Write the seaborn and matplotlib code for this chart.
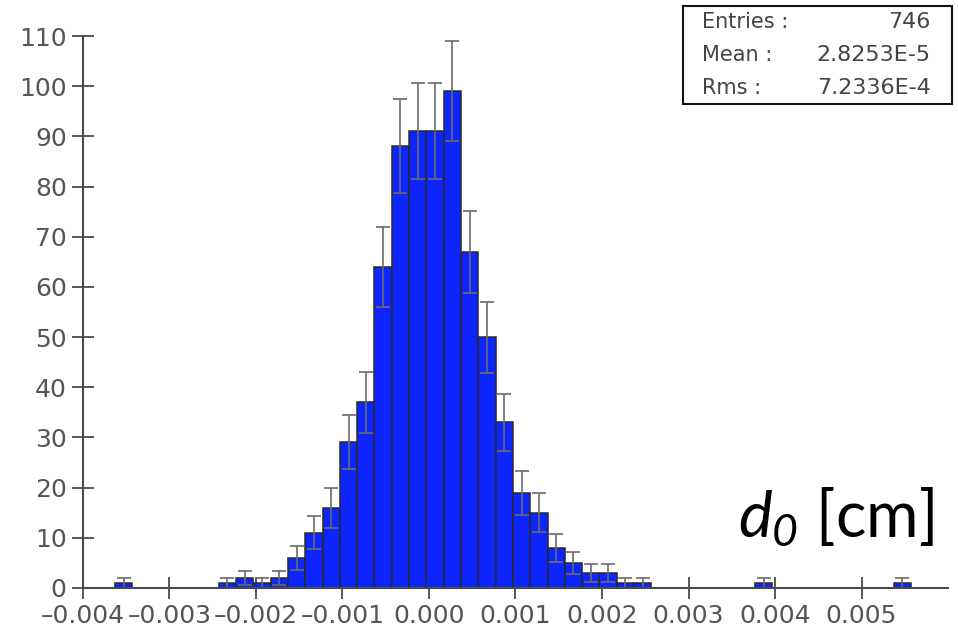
import numpy as np
import pandas as pd
import matplotlib
matplotlib.use("Agg")
import matplotlib.pyplot as plt
import matplotlib.patches as mpatches
import seaborn as sns

# Histogram of the track impact parameter d0 (46 bins, 0.0002 cm wide)
bin_start = -0.00363
bin_width = 0.0002
counts = [1, 0, 0, 0, 0, 0, 1, 2, 1, 2,
          6, 11, 16, 29, 37, 64, 88, 91, 91, 99,
          67, 50, 33, 19, 15, 8, 5, 3, 3, 1,
          1, 0, 0, 0, 0, 0, 0, 1, 0, 0,
          0, 0, 0, 0, 0, 1]
x_ticks = [-0.004, -0.003, -0.002, -0.001, 0.000, 0.001, 0.002, 0.003, 0.004, 0.005]
y_ticks = list(range(0, 111, 10))
stats_labels = ["Entries :", "Mean : ", "Rms :"]
stats_values = ["746", "2.8253E-5", "7.2336E-4"]

edges = bin_start + bin_width * np.arange(len(counts) + 1)
centers = 0.5 * (edges[:-1] + edges[1:])
df = pd.DataFrame({'d0': centers, 'count': counts})

sns.set_style("ticks")
plt.rcParams['font.family'] = ['DejaVu Sans']
# italic d and italic subscript 0 for the axis label
plt.rcParams['mathtext.fontset'] = 'custom'
plt.rcParams['mathtext.it'] = 'Lato:italic'
plt.rcParams['mathtext.rm'] = 'Lato:italic'

fig = plt.figure(figsize=(9.58, 6.34), dpi=100)
ax = fig.add_axes([0.0866, 0.0726, 0.9030, 0.8706])

sns.histplot(data=df, x='d0', weights='count', bins=edges.tolist(), color='#0d26ff',
             edgecolor='#2a2a2a', linewidth=1.1, alpha=1.0, ax=ax)

# Poisson error bars on the filled bins
filled = df[df['count'] > 0]
ax.errorbar(filled['d0'], filled['count'], yerr=np.sqrt(filled['count']),
            fmt='none', ecolor='#6a6a6a', elinewidth=1.2, capsize=5, capthick=1.2)

ax.set_xlim(-0.004, 0.006)
ax.set_ylim(0, 110)
ax.set_xticks(x_ticks)
ax.set_xticklabels([f"{v:.3f}".replace("-", "\u2013") for v in x_ticks])
ax.set_yticks(y_ticks)
ax.set_xlabel("")
ax.set_ylabel("")

for side in ['top', 'right']:
    ax.spines[side].set_visible(False)
for side in ['left', 'bottom']:
    ax.spines[side].set_color('#4a4a4a')
    ax.spines[side].set_linewidth(1.5)
ax.tick_params(axis='both', direction='inout', length=15.5, width=1.3,
               color='#4a4a4a', labelsize=18, labelcolor='#555555', pad=4)

# statistics box
W, H = 958, 634
fig.patches.append(mpatches.Rectangle((683 / W, 1 - 104 / H), 269 / W, 98 / H,
                                      transform=fig.transFigure, fill=False,
                                      edgecolor='#111111', linewidth=1.5))
for i, (lab, val) in enumerate(zip(stats_labels, stats_values)):
    yy = 1 - (22 + 33 * i) / H
    fig.text(702 / W, yy, lab, ha='left', va='center', fontsize=15, color='#444444')
    fig.text(931 / W, yy, val, ha='right', va='center', fontsize=16, color='#444444')

fig.text(934 / W, 1 - 537 / H, r'$d_0$ [cm]', ha='right', va='baseline',
         fontsize=46, color='black', family='Lato')

fig.savefig("out.png", dpi=100)
